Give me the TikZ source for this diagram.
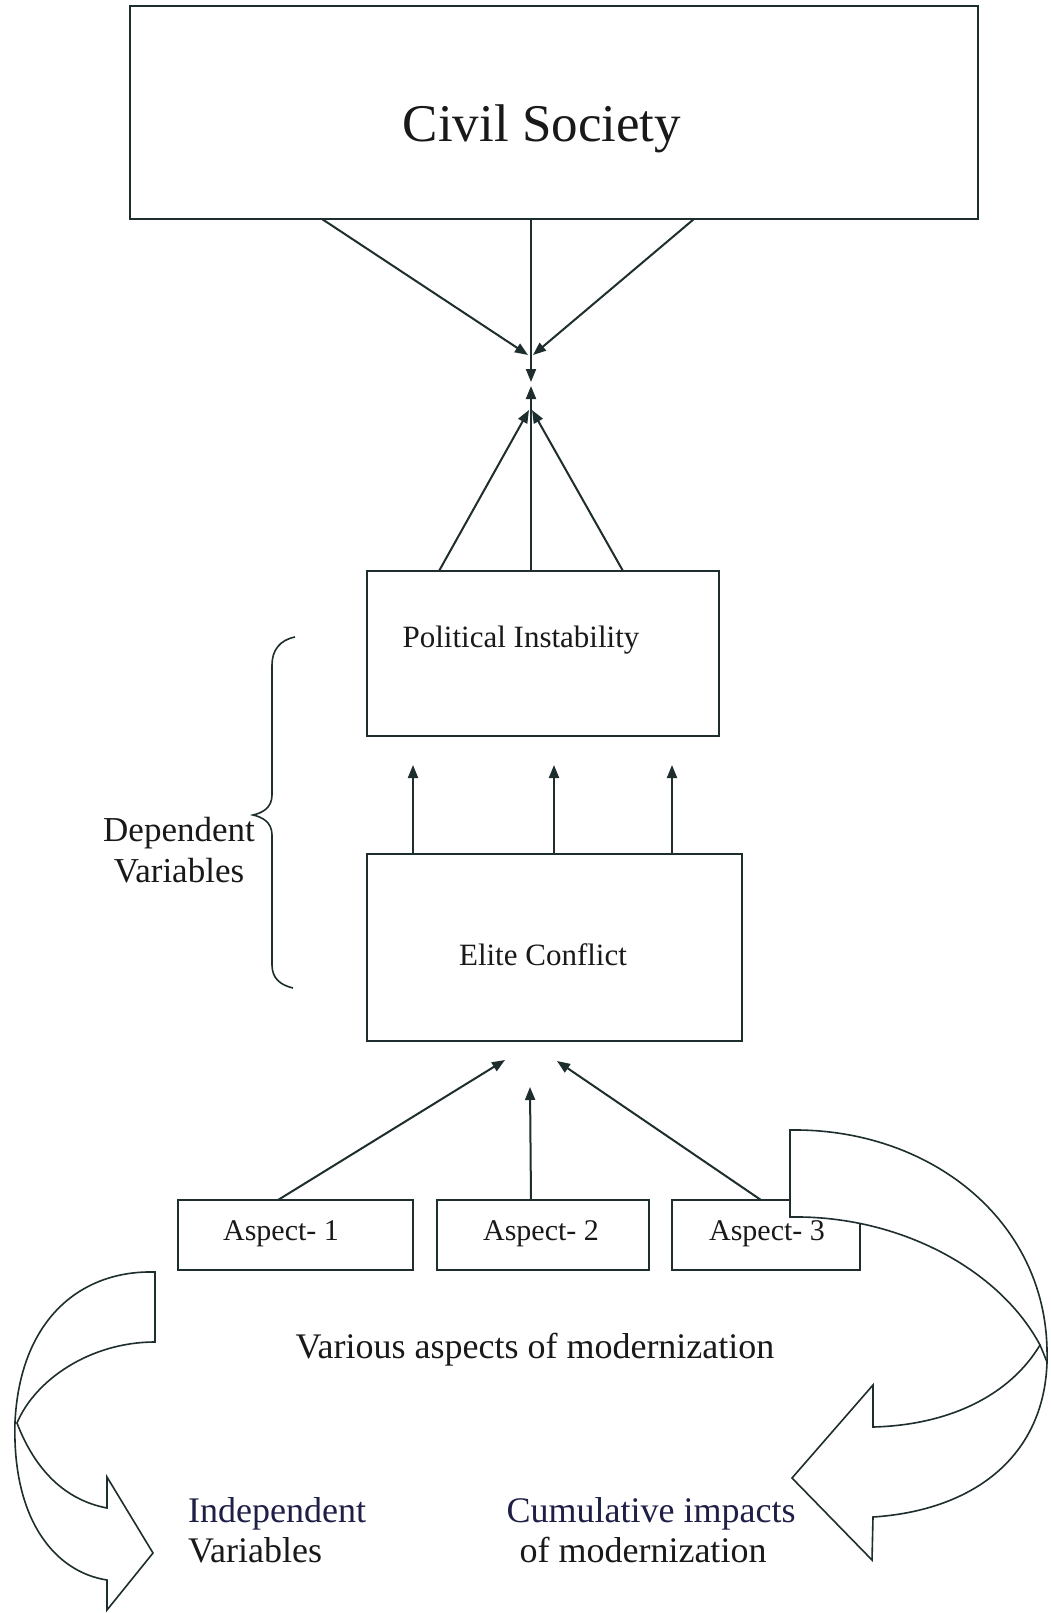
\documentclass[tikz,border=0pt]{standalone}
\usepackage{fontspec}
\setmainfont{Liberation Serif}
\usetikzlibrary{arrows.meta,calc}
\definecolor{ink}{RGB}{30,45,45}
\definecolor{txt}{RGB}{25,25,25}
\definecolor{navy}{RGB}{30,30,70}
\begin{document}
\begin{tikzpicture}[x=1pt,y=-1pt,
  box/.style={draw=ink,line width=2pt,rectangle,inner sep=0pt,outer sep=0pt,fill=white},
  arr/.style={draw=ink,line width=2pt,-{Triangle[length=13pt,width=10pt]}},
  lbl/.style={text=txt,inner sep=0pt,anchor=base},
  bendarrow/.style={draw=ink,line width=1.6pt,fill=white,line join=miter},
  bracestyle/.style={draw=ink,line width=1.6pt}]
\useasboundingbox (0,0) rectangle (1050,1613);
\fill[white] (0,0) rectangle (1050,1613);

% boxes
\node[box,minimum width=848pt,minimum height=213pt] (cs) at (554,112.5) {};
\node[box,minimum width=352pt,minimum height=165pt] (pi) at (543,653.5) {};
\node[box,minimum width=375pt,minimum height=187pt] (ec) at (554.5,947.5) {};
\node[box,minimum width=235pt,minimum height=70pt] (a1) at (295.5,1235) {};
\node[box,minimum width=212pt,minimum height=70pt] (a2) at (543,1235) {};
\node[box,minimum width=188pt,minimum height=70pt] (a3) at (766,1235) {};

% arrow end points
\coordinate (cL) at (528,355);
\coordinate (cR) at (533,355);
\coordinate (cC) at (531,382);
\coordinate (pL) at (529,410);
\coordinate (pR) at (532,410);
\coordinate (pC) at (531,386);
\coordinate (e1) at (413,765);
\coordinate (e2) at (554,765);
\coordinate (e3) at (672,765);
\coordinate (s1) at (505,1060);
\coordinate (s2) at (530,1087);
\coordinate (s3) at (557,1061);

% civil society -> centre
\draw[arr] ($(cs.south west)+(192,0)$) -- (cL);
\draw[arr] ($(cs.south west)+(401,0)$) -- (cC);
\draw[arr] ($(cs.south west)+(564,0)$) -- (cR);
% political instability -> centre
\draw[arr] ($(pi.north west)+(72,0)$) -- (pL);
\draw[arr] ($(pi.north west)+(164,0)$) -- (pC);
\draw[arr] ($(pi.north west)+(256,0)$) -- (pR);
% elite conflict -> political instability
\draw[arr] ($(ec.north west)+(46,0)$) -- (e1);
\draw[arr] ($(ec.north west)+(187,0)$) -- (e2);
\draw[arr] ($(ec.north west)+(305,0)$) -- (e3);
% aspects -> elite conflict
\draw[arr] ($(a1.north west)+(100,0)$) -- (s1);
\draw[arr] ($(a2.north west)+(94,0)$) -- (s2);
\draw[arr] ($(a3.north west)+(89,0)$) -- (s3);

% left curved arrow
\draw[bendarrow] (155,1272) .. controls (80,1270) and (20,1320) .. (15,1422)
  .. controls (12,1520) and (55,1572) .. (107,1580)
  -- (107,1610) -- (153,1553) -- (107,1477) -- (107,1508)
  .. controls (65,1500) and (35,1470) .. (17,1423)
  .. controls (35,1380) and (90,1342) .. (155,1342) -- cycle;

% right curved arrow
\draw[bendarrow] (790,1130) .. controls (930,1128) and (1045,1220) .. (1047,1350)
  .. controls (1050,1450) and (980,1510) .. (873,1517)
  -- (872,1560) -- (792,1478) -- (873,1385) -- (873,1427)
  .. controls (950,1425) and (1010,1395) .. (1040,1345)
  .. controls (1000,1270) and (900,1215) .. (790,1217) -- cycle;
\draw[bracestyle] (1040,1345) .. controls (1043,1352) and (1045,1357) .. (1047,1362);

% brace
\draw[bracestyle] (295,637) .. controls (280,640) and (272,650) .. (272,665)
  -- (272,795) .. controls (272,808) and (262,813) .. (253,815)
  .. controls (262,817) and (272,822) .. (272,835)
  -- (272,965) .. controls (272,978) and (280,985) .. (293,988);

% texts
\node[lbl,font=\fontsize{53}{60}\selectfont] (tcs) at (542,142) {Civil Society};
\node[lbl,font=\fontsize{31}{36}\selectfont] (tpi) at (521,647) {Political Instability};
\node[lbl,font=\fontsize{31}{36}\selectfont] (tec) at (543,965) {Elite Conflict};
\node[lbl,font=\fontsize{30}{34}\selectfont] (ta1) at (281,1240) {Aspect- 1};
\node[lbl,font=\fontsize{30}{34}\selectfont] (ta2) at (541,1240) {Aspect- 2};
\node[lbl,font=\fontsize{30}{34}\selectfont] (ta3) at (767,1240) {Aspect- 3};
\node[lbl,font=\fontsize{35}{40}\selectfont] (td1) at (179,841) {Dependent};
\node[lbl,font=\fontsize{35}{40}\selectfont] (td2) at (179,882) {Variables};
\node[lbl,font=\fontsize{36}{40}\selectfont] (tva) at (535,1358) {Various aspects of modernization};
\node[lbl,anchor=base west,text=navy,font=\fontsize{36}{40}\selectfont] (ti1) at (188,1522) {Independent};
\node[lbl,anchor=base west,font=\fontsize{36}{40}\selectfont] (ti2) at (188,1562) {Variables};
\node[lbl,text=navy,font=\fontsize{36}{40}\selectfont] (tc1) at (651,1522) {Cumulative impacts};
\node[lbl,font=\fontsize{36}{40}\selectfont] (tc2) at (643,1562) {of modernization};
\end{tikzpicture}
\end{document}
